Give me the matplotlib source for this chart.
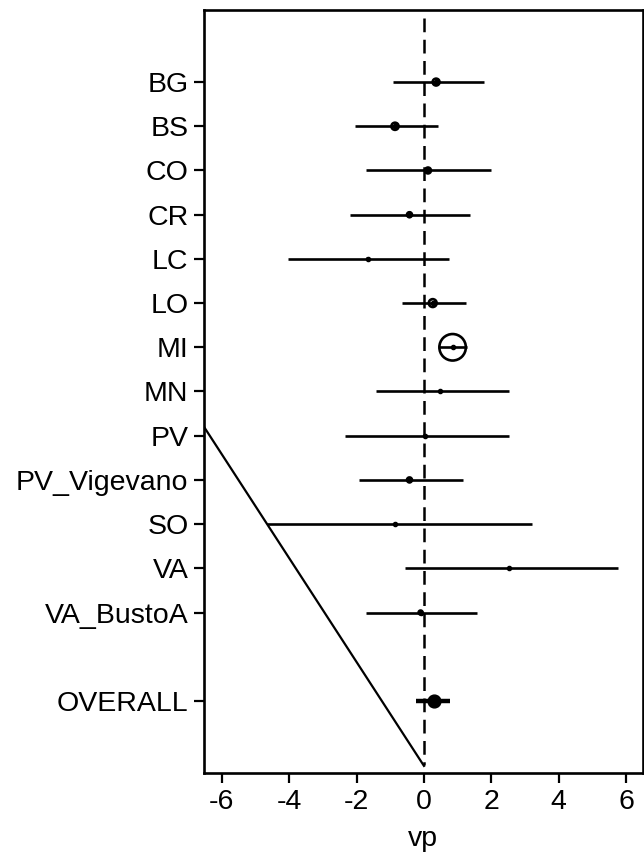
import matplotlib
matplotlib.use("Agg")
from matplotlib import pyplot as plt

plt.rcParams['font.family'] = ['Liberation Sans', 'DejaVu Sans']
plt.rcParams['axes.unicode_minus'] = False

# study estimates and confidence limits (vp)
studies = ["BG", "BS", "CO", "CR", "LC", "LO", "MI", "MN", "PV",
           "PV_Vigevano", "SO", "VA", "VA_BustoA"]
est = [0.36, -0.86, 0.12, -0.43, -1.67, 0.26, 0.85, 0.49, 0.03, -0.43, -0.86, 2.53, -0.10]
lo = [-0.91, -2.05, -1.72, -2.20, -4.03, -0.64, 0.45, -1.43, -2.33, -1.92, -4.67, -0.56, -1.72]
hi = [1.77, 0.42, 1.98, 1.37, 0.75, 1.24, 1.27, 2.52, 2.52, 1.16, 3.20, 5.77, 1.56]
weight = [4.9, 5.3, 3.6, 2.5, 0.1, 6.4, 72.8, 0.1, 0.1, 2.5, 0.1, 0.1, 1.6]

overall_label = "OVERALL"
overall_est = 0.31
overall_lo = -0.25
overall_hi = 0.77

# reference line drawn across the lower left
diag_x = [-6.53, 0.0]
diag_y = [8.8, 16.47]

pos = list(range(1, len(studies) + 1))
overall_pos = len(studies) + 2

fig = plt.figure(figsize=(6.44, 8.56), dpi=100)
ax = fig.add_axes([0.3168, 0.097, 0.6815, 0.8913])

# null line
ax.plot([0, 0], [-0.45, 16.45], color="black", lw=1.8, ls=(0, (5.5, 3)), zorder=1)

# confidence intervals
ax.hlines(pos, lo, hi, color="black", lw=1.9, zorder=2)

# weighted hollow circles + point estimate
ax.scatter(est, pos, s=[w * 5.0 for w in weight], facecolors="none",
           edgecolors="black", linewidths=1.9, zorder=3)
ax.scatter(est, pos, s=9, color="black", zorder=4)

# overall estimate
ax.hlines(overall_pos, overall_lo, overall_hi, color="black", lw=3.2, zorder=2)
ax.scatter([overall_est], [overall_pos], s=85, color="black", zorder=4)

ax.plot(diag_x, diag_y, color="black", lw=1.6, zorder=1)

ax.set_xlim(-6.53, 6.5)
ax.set_ylim(16.63, -0.63)
ax.set_xticks([-6, -4, -2, 0, 2, 4, 6])
ax.set_yticks(pos + [overall_pos])
ax.set_yticklabels(studies + [overall_label])
ax.tick_params(axis="both", labelsize=20.5, length=7.2, width=1.6, pad=4)
ax.set_xlabel("vp", fontsize=20.5, labelpad=8)
for sp in ax.spines.values():
    sp.set_linewidth(1.9)

fig.savefig("out.png", dpi=100)
